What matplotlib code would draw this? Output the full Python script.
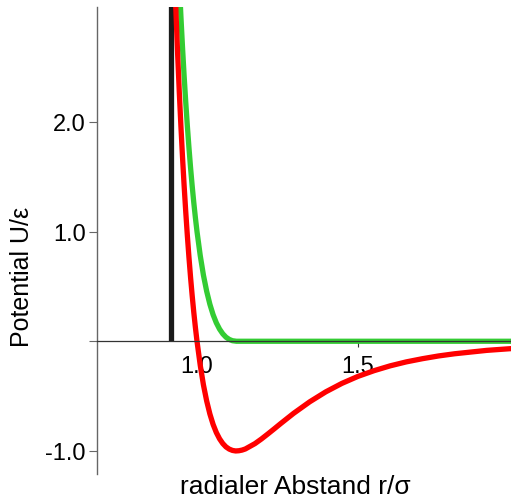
import matplotlib
matplotlib.use("Agg")
import matplotlib.pyplot as plt

plt.rcParams['font.family'] = ['Liberation Sans', 'DejaVu Sans']

# Lennard-Jones (rot)
lj_r = [0.92, 0.925, 0.93, 0.935, 0.94, 0.945, 0.95, 0.955, 0.96, 0.965, 0.97, 0.975,
        0.98, 0.985, 0.99, 0.995, 1.00, 1.01, 1.02, 1.03, 1.04, 1.05, 1.06, 1.07,
        1.08, 1.09, 1.10, 1.11, 1.12, 1.13, 1.14, 1.15, 1.18, 1.20, 1.22, 1.24,
        1.26, 1.30, 1.35, 1.40, 1.45, 1.50, 1.55, 1.60, 1.65, 1.70, 1.75, 1.80,
        1.90, 2.00]
lj_u = [4.283, 3.809, 3.373, 2.974, 2.607, 2.270, 1.961, 1.678, 1.418, 1.181, 0.963, 0.764,
        0.582, 0.416, 0.264, 0.126, 0.0, -0.218, -0.398, -0.544, -0.663, -0.758, -0.832, -0.889,
        -0.932, -0.963, -0.983, -0.995, -1.000, -0.998, -0.992, -0.982, -0.933, -0.891, -0.845, -0.798,
        -0.750, -0.657, -0.552, -0.461, -0.384, -0.320, -0.268, -0.224, -0.188, -0.159, -0.134, -0.114,
        -0.083, -0.062]

# WCA (gruen)
wca_r = [0.945, 0.95, 0.955, 0.96, 0.965, 0.97, 0.975, 0.98, 0.985, 0.99, 0.995, 1.00,
         1.01, 1.02, 1.03, 1.04, 1.05, 1.06, 1.07, 1.08, 1.09, 1.10, 1.11, 1.1225, 2.00]
wca_u = [3.270, 2.961, 2.678, 2.418, 2.181, 1.963, 1.764, 1.582, 1.416, 1.264, 1.126, 1.0,
         0.782, 0.602, 0.456, 0.337, 0.242, 0.168, 0.111, 0.068, 0.037, 0.017, 0.005, 0.0, 0.0]

# harte Kugel (schwarz)
hs_r = [0.918, 0.918]
hs_u = [0.0, 4.0]

xticks = [1.0, 1.5]
xticklabels = ["1.0", "1.5"]
yticks = [-1.0, 0.0, 1.0, 2.0]
yticklabels = ["-1.0", "", "1.0", "2.0"]

fig = plt.figure(figsize=(5.11, 5.02), dpi=100)
ax = fig.add_axes([97/511, 1 - 475/502, 1 - 97/511, (475 - 8)/502])

ax.plot(hs_r, hs_u, color='#1a1a1a', lw=3.8, solid_capstyle='butt')
ax.plot(wca_r, wca_u, color='#33cc33', lw=3.8)
ax.plot(lj_r, lj_u, color='#ff0000', lw=3.8)

ax.set_xlim(0.6894, 1.9752)
ax.set_ylim(-1.21, 3.047)

for s in ['top', 'right']:
    ax.spines[s].set_visible(False)
ax.spines['bottom'].set_position(('data', 0))
ax.spines['bottom'].set_color('#333333')
ax.spines['left'].set_color('#666666')
ax.spines['bottom'].set_linewidth(0.9)
ax.spines['left'].set_linewidth(1.0)

ax.set_xticks(xticks)
ax.set_xticklabels(xticklabels)
ax.set_yticks(yticks)
ax.set_yticklabels(yticklabels)
ax.tick_params(axis='x', direction='out', length=4, pad=6, labelsize=17, color='#333333')
ax.tick_params(axis='y', direction='out', length=6, pad=2, labelsize=17, color='#666666')

fig.text(22/511, 1 - 277/502, "Potential U/ε", rotation=90, fontsize=18,
         ha='center', va='center')
fig.text(295/511, 1 - 487/502, "radialer Abstand r/σ", fontsize=19,
         ha='center', va='center')

fig.savefig("out.png", dpi=100)
